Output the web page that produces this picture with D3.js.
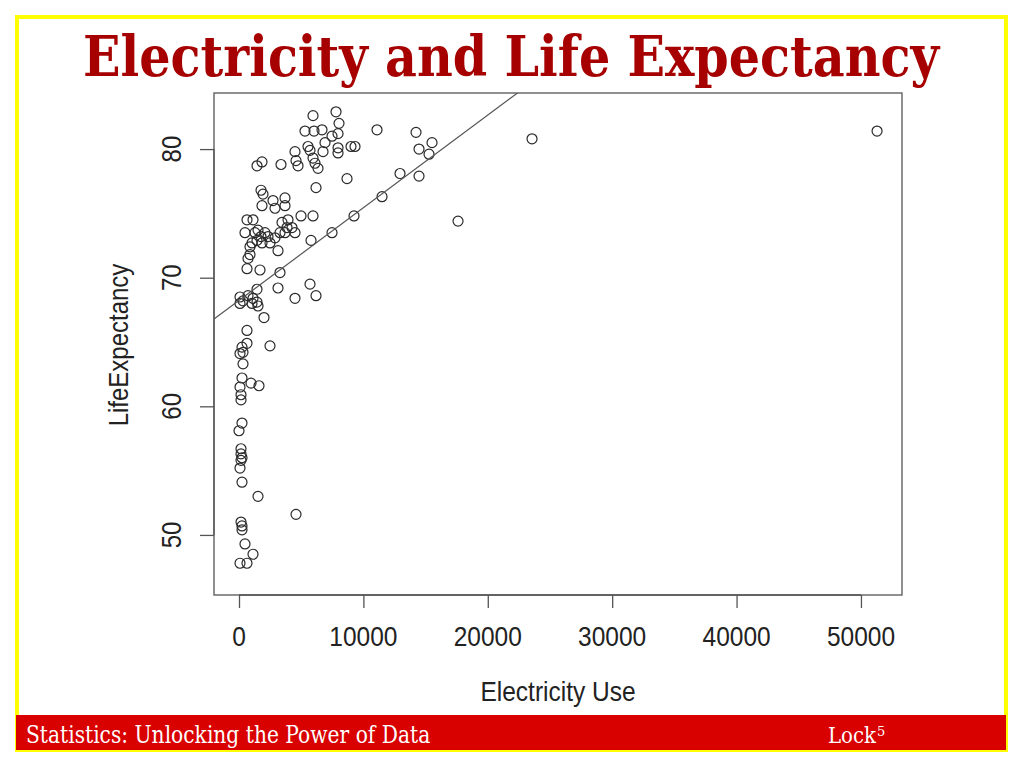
<!DOCTYPE html>
<html>
<head>
<meta charset="utf-8">
<script src="https://cdn.jsdelivr.net/npm/d3@7"></script>
<style>
  html, body { margin: 0; padding: 0; background: #fff; }
  svg { display: block; }
</style>
</head>
<body>
<svg id="chart" width="1024" height="768"></svg>
<script>
// ---- data ----
const electricityUse = [
  5950, 7800, 8040, 5306, 6030, 6673, 7960, 7477, 6914, 5548,
  5708, 4502, 6754, 7960, 7960, 9005, 9326, 11095, 14231, 15517,
  14472, 15276, 4583, 4744, 5950, 6110, 6352, 1447, 1849, 3377,
  8683, 12944, 14472, 6191, 11497, 17608, 9246, 7477, 5789, 4985,
  5950, 23557, 51295, 1930, 2734, 3698, 1849, 2894, 3698, 643,
  1126, 3940, 3457, 4261, 4502, 482, 1286, 1528, 2090, 2332,
  1447, 1849, 2492, 1045, 2894, 3296, 3698, 3859, 1769, 3136,
  884, 724, 884, 643, 1688, 3296, 3136, 5708, 6191, 4502,
  1447, 80, 322, 724, 1126, 1447, 1528, 80, 1045, 2010,
  643, 643, 241, 322, 80, 2492, 322, 241, 80, 161,
  161, 965, 1608, 241, 0, 161, 161, 241, 161, 80,
  241, 1528, 4583, 161, 241, 241, 482, 1126, 80, 643,
  1769
];
const lifeExpectancy = [
  82.6, 82.9, 82.0, 81.4, 81.4, 81.5, 81.2, 81.0, 80.5, 80.2,
  79.9, 79.8, 79.8, 80.1, 79.7, 80.2, 80.2, 81.5, 81.3, 80.5,
  80.0, 79.6, 79.1, 78.7, 79.3, 78.9, 78.5, 78.7, 79.0, 78.8,
  77.7, 78.1, 77.9, 77.0, 76.3, 74.4, 74.8, 73.5, 72.9, 74.8,
  74.8, 80.8, 81.4, 76.5, 76.0, 76.2, 75.6, 75.4, 75.6, 74.5,
  74.5, 74.5, 74.3, 73.9, 73.5, 73.5, 73.5, 73.7, 73.5, 73.2,
  72.9, 72.7, 72.7, 72.7, 73.1, 73.5, 73.5, 73.9, 73.2, 72.1,
  72.4, 71.5, 71.8, 70.7, 70.6, 70.4, 69.2, 69.5, 68.6, 68.4,
  69.1, 68.5, 68.2, 68.6, 68.4, 68.1, 67.8, 68.0, 68.0, 66.9,
  65.9, 64.9, 64.6, 64.2, 64.1, 64.7, 63.3, 62.2, 61.5, 60.9,
  60.5, 61.8, 61.6, 58.7, 58.1, 56.7, 56.3, 56.0, 55.8, 55.2,
  54.1, 53.0, 51.6, 51.0, 50.7, 50.4, 49.3, 48.5, 47.8, 47.8,
  76.8
];
const xTicks = [0, 10000, 20000, 30000, 40000, 50000];
const yTicks = [50, 60, 70, 80];
const fitLine = [68.24, 0.00072]; // intercept, slope of least-squares line

const titleText = "Electricity and Life Expectancy";
const xLabel = "Electricity Use";
const yLabel = "LifeExpectancy";
const footerLeft = "Statistics: Unlocking the Power of Data";
const footerRight = "Lock";
const footerSup = "5";

// ---- drawing ----
const svg = d3.select("#chart");
const serif = "'DejaVu Serif', 'Liberation Serif', serif";

// fit a text's font size so its natural width equals target
function fitWidth(sel, target) {
  const fs = parseFloat(sel.attr("font-size"));
  const w = sel.node().getComputedTextLength();
  if (w > 0) sel.attr("font-size", fs * target / w);
}

// frame
svg.append("rect").attr("x", 17).attr("y", 17).attr("width", 989).attr("height", 733)
  .attr("fill", "#fff").attr("stroke", "#ffff00").attr("stroke-width", 4);

// title
const title = svg.append("text")
  .attr("transform", "translate(511,76) scale(1,1.13)")
  .attr("text-anchor", "middle")
  .attr("font-family", serif)
  .attr("font-weight", "bold").attr("font-size", 50)
  .attr("fill", "#a60000")
  .text(titleText);
fitWidth(title, 856);

// plot region
const box = { left: 214, right: 902, top: 93, bottom: 595 };
const x = d3.scaleLinear().domain([-2010, 53300]).range([box.left, box.right]);
const y = d3.scaleLinear().domain([45.33, 84.36]).range([box.bottom, box.top]);

const plot = svg.append("g");
const clip = svg.append("clipPath").attr("id", "plotclip");
clip.append("rect").attr("x", box.left).attr("y", box.top)
  .attr("width", box.right - box.left).attr("height", box.bottom - box.top);

// points
const pts = electricityUse.map((e, i) => [e, lifeExpectancy[i]]);
plot.append("g").selectAll("circle").data(pts).join("circle")
  .attr("cx", d => x(d[0])).attr("cy", d => y(d[1])).attr("r", 5)
  .attr("fill", "none").attr("stroke", "#2a2a2a").attr("stroke-width", 1.2);

// regression line
const xd = x.domain();
plot.append("line")
  .attr("clip-path", "url(#plotclip)")
  .attr("x1", x(xd[0])).attr("y1", y(fitLine[0] + fitLine[1] * xd[0]))
  .attr("x2", x(xd[1])).attr("y2", y(fitLine[0] + fitLine[1] * xd[1]))
  .attr("stroke", "#555").attr("stroke-width", 1.2);

// box
plot.append("rect").attr("x", box.left).attr("y", box.top)
  .attr("width", box.right - box.left).attr("height", box.bottom - box.top)
  .attr("fill", "none").attr("stroke", "#555").attr("stroke-width", 1.3);

const axisFont = "'Liberation Sans', Arial, Helvetica, sans-serif";
const vScale = 1.14;

// x axis
const xAxis = svg.append("g").attr("transform", `translate(0,${box.bottom})`)
  .call(d3.axisBottom(x).tickValues(xTicks).tickSize(13).tickFormat(d3.format("d")));
xAxis.select(".domain").remove();
xAxis.selectAll(".tick line").attr("stroke", "#555").attr("stroke-width", 1.3);
xAxis.selectAll(".tick text").remove();
xAxis.append("line").attr("x1", x(xTicks[0])).attr("x2", x(xTicks[xTicks.length - 1]))
  .attr("y1", 0).attr("y2", 0).attr("stroke", "#555").attr("stroke-width", 1.3);
svg.append("g").selectAll("text").data(xTicks).join("text")
  .attr("transform", d => `translate(${x(d)},646) scale(1,${vScale})`)
  .attr("text-anchor", "middle").attr("font-family", axisFont).attr("font-size", 24.5)
  .attr("fill", "#222").text(d => d3.format("d")(d));

// y axis
const yAxis = svg.append("g").attr("transform", `translate(${box.left},0)`)
  .call(d3.axisLeft(y).tickValues(yTicks).tickSize(14));
yAxis.select(".domain").remove();
yAxis.selectAll(".tick line").attr("stroke", "#555").attr("stroke-width", 1.3);
yAxis.selectAll(".tick text").remove();
yAxis.append("line").attr("y1", y(yTicks[0])).attr("y2", y(yTicks[yTicks.length - 1]))
  .attr("x1", 0).attr("x2", 0).attr("stroke", "#555").attr("stroke-width", 1.3);
svg.append("g").selectAll("text").data(yTicks).join("text")
  .attr("transform", d => `translate(181,${y(d)}) rotate(-90) scale(1,${vScale})`)
  .attr("text-anchor", "middle").attr("font-family", axisFont).attr("font-size", 24)
  .attr("fill", "#222").text(d => d);

// axis labels
svg.append("text")
  .attr("transform", `translate(558,701) scale(1,${vScale})`)
  .attr("text-anchor", "middle").attr("font-family", axisFont).attr("font-size", 24.5)
  .attr("fill", "#222").text(xLabel);
svg.append("text")
  .attr("transform", `translate(128,345) rotate(-90) scale(1,${vScale})`)
  .attr("text-anchor", "middle").attr("font-family", axisFont).attr("font-size", 24)
  .attr("fill", "#222").text(yLabel);

// footer band
svg.append("rect").attr("x", 16).attr("y", 715).attr("width", 990).attr("height", 35)
  .attr("fill", "#d90000");
const fl = svg.append("text").attr("transform", "translate(26,743) scale(1,1.15)")
  .attr("font-family", serif).attr("font-size", 21)
  .attr("fill", "#fff").text(footerLeft);
fitWidth(fl, 404);
const fr = svg.append("text").attr("transform", "translate(828,743) scale(1,1.15)")
  .attr("font-family", serif).attr("font-size", 20)
  .attr("fill", "#fff").text(footerRight);
fitWidth(fr, 48);
const frW = fr.node().getComputedTextLength();
svg.append("text").attr("x", 828 + frW + 1).attr("y", 736)
  .attr("font-family", serif).attr("font-size", 13)
  .attr("fill", "#fff").text(footerSup);
</script>
</body>
</html>
